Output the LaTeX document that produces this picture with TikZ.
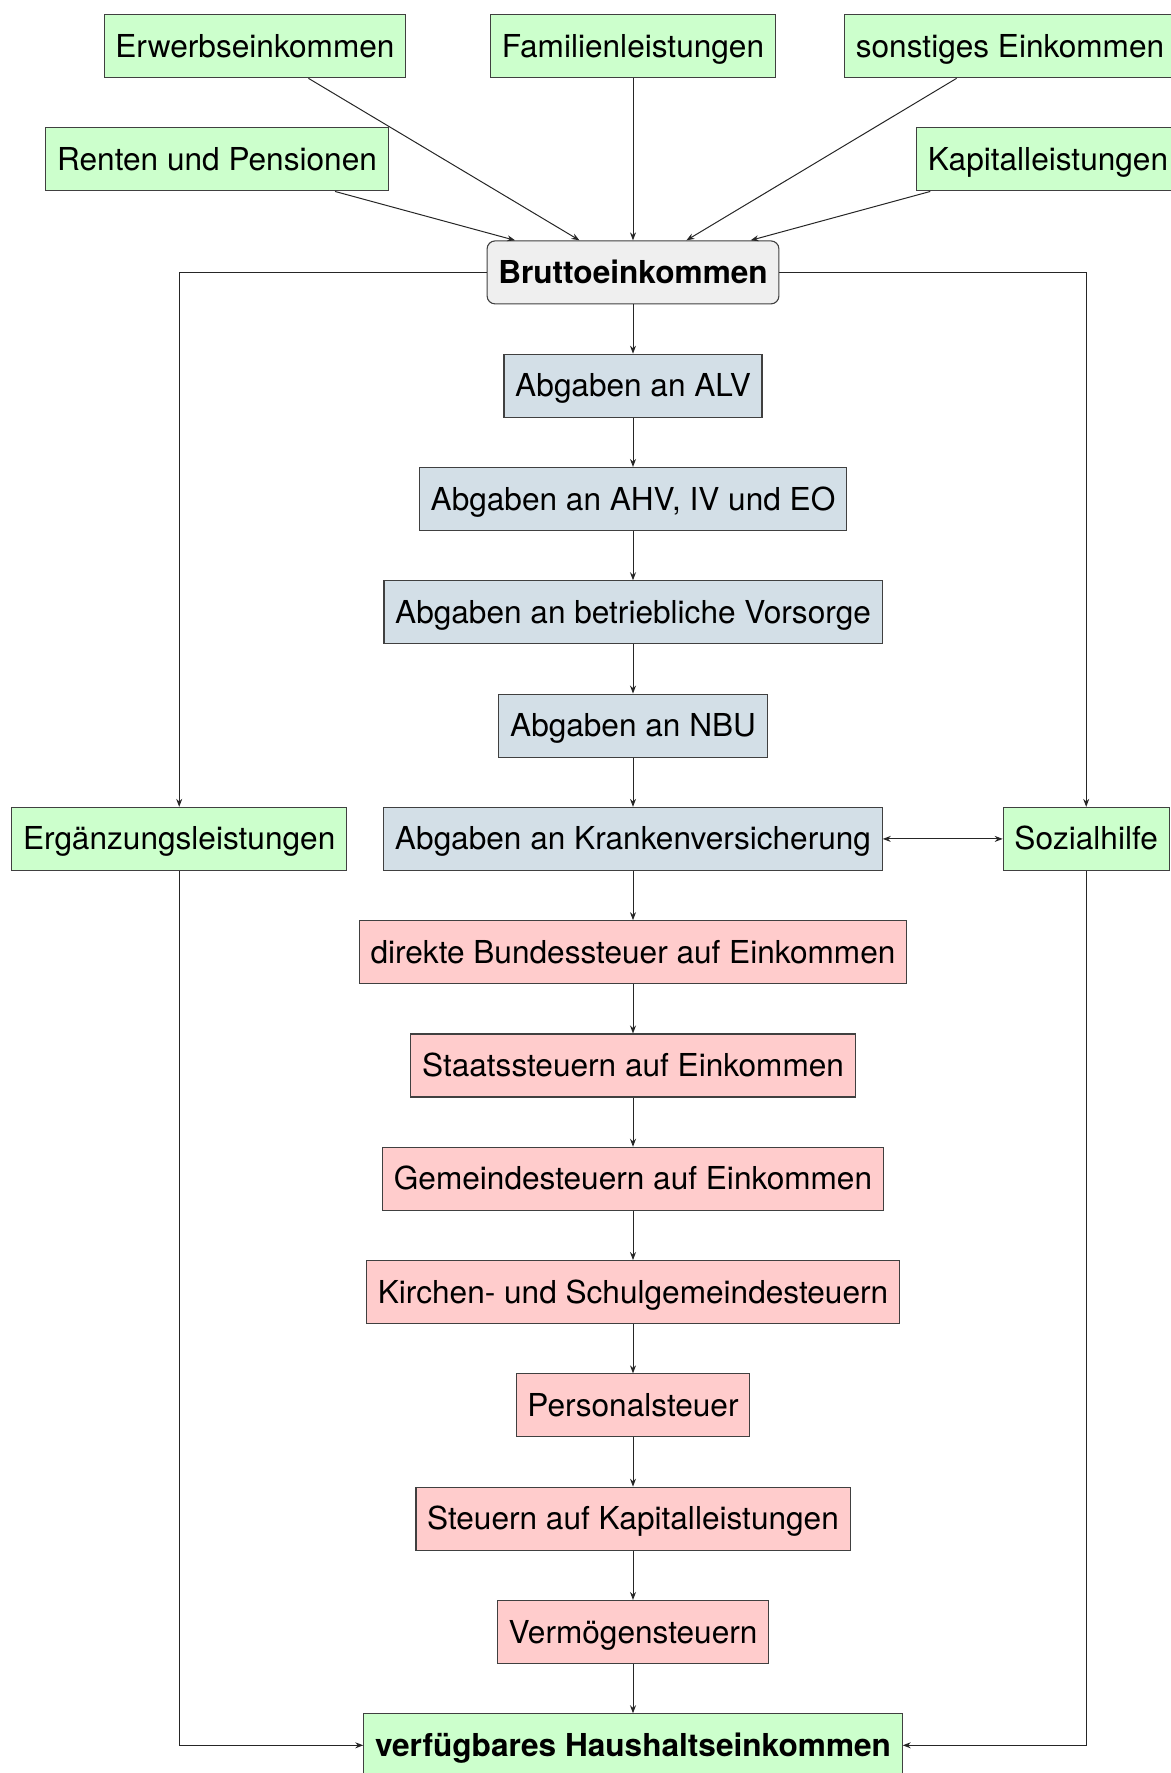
\documentclass[tikz,border=0pt]{standalone}
\usepackage{fontspec}
\setmainfont{TeX Gyre Heros}
\usetikzlibrary{arrows.meta}
\definecolor{cgreen}{HTML}{CCFFCC}
\definecolor{cblue}{HTML}{D3DFE7}
\definecolor{cred}{HTML}{FFCCCC}
\definecolor{cgray}{HTML}{EFEFEF}
\tikzset{
  basebox/.style={draw=black!75, line width=0.55pt, minimum height=31.5pt, inner xsep=5.6pt, inner ysep=0pt,
    font=\fontsize{15.8}{19}\selectfont, text height=14.3pt, text depth=3.3pt},
  gbox/.style={basebox, fill=cgreen},
  bbox/.style={basebox, fill=cblue},
  rbox/.style={basebox, fill=cred},
  brbox/.style={basebox, fill=cgray, rounded corners=4pt},
  arr/.style={draw=black!85, line width=0.5pt, -{Stealth[length=4pt,width=3pt]}},
  darr/.style={draw=black!85, line width=0.5pt, {Stealth[length=4pt,width=3pt]}-{Stealth[length=4pt,width=3pt]}}
}
\begin{document}
\begin{tikzpicture}[x=0.5pt,y=-0.5pt]
\useasboundingbox (0,0) rectangle (1171,1773);
\node[gbox] (erw) at (254.9,46.3) {Erwerbseinkommen};
\node[gbox] (fam) at (633,46.3) {Familienleistungen};
\node[gbox] (son) at (1010,46.3) {sonstiges Einkommen};
\node[gbox] (ren) at (217,159.4) {Renten und Pensionen};
\node[gbox] (kap) at (1048,159.4) {Kapitalleistungen};
\node[brbox] (bru) at (633,272.4) {\bfseries Bruttoeinkommen};
\node[bbox] (alv) at (633,385.7) {Abgaben an ALV};
\node[bbox] (ahv) at (633,499.0) {Abgaben an AHV, IV und EO};
\node[bbox] (bv) at (633,612.3) {Abgaben an betriebliche Vorsorge};
\node[bbox] (nbu) at (633,725.6) {Abgaben an NBU};
\node[bbox] (kv) at (633,838.9) {Abgaben an Krankenversicherung};
\node[gbox] (erg) at (179.2,838.9) {Ergänzungsleistungen};
\node[gbox] (soz) at (1086.2,838.9) {Sozialhilfe};
\node[rbox] (dbs) at (633,952.2) {direkte Bundessteuer auf Einkommen};
\node[rbox] (sta) at (633,1065.5) {Staatssteuern auf Einkommen};
\node[rbox] (gem) at (633,1178.8) {Gemeindesteuern auf Einkommen};
\node[rbox] (kir) at (633,1292.1) {Kirchen- und Schulgemeindesteuern};
\node[rbox] (per) at (633,1405.4) {Personalsteuer};
\node[rbox] (skl) at (633,1518.7) {Steuern auf Kapitalleistungen};
\node[rbox] (ver) at (633,1632.0) {Vermögensteuern};
\node[gbox] (hhe) at (633,1745.3) {\bfseries verfügbares Haushaltseinkommen};

\draw[arr] (erw) -- (bru);
\draw[arr] (fam) -- (bru);
\draw[arr] (son) -- (bru);
\draw[arr] (ren) -- (bru);
\draw[arr] (kap) -- (bru);
\draw[arr] (bru) -- (alv);
\draw[arr] (alv) -- (ahv);
\draw[arr] (ahv) -- (bv);
\draw[arr] (bv) -- (nbu);
\draw[arr] (nbu) -- (kv);
\draw[arr] (kv) -- (dbs);
\draw[arr] (dbs) -- (sta);
\draw[arr] (sta) -- (gem);
\draw[arr] (gem) -- (kir);
\draw[arr] (kir) -- (per);
\draw[arr] (per) -- (skl);
\draw[arr] (skl) -- (ver);
\draw[arr] (ver) -- (hhe);
\draw[darr] (kv.east) -- (soz.west);
\draw[arr] (bru.west) -| (erg.north);
\draw[arr] (bru.east) -| (soz.north);
\draw[arr] (erg.south) |- (hhe.west);
\draw[arr] (soz.south) |- (hhe.east);
\end{tikzpicture}
\end{document}
